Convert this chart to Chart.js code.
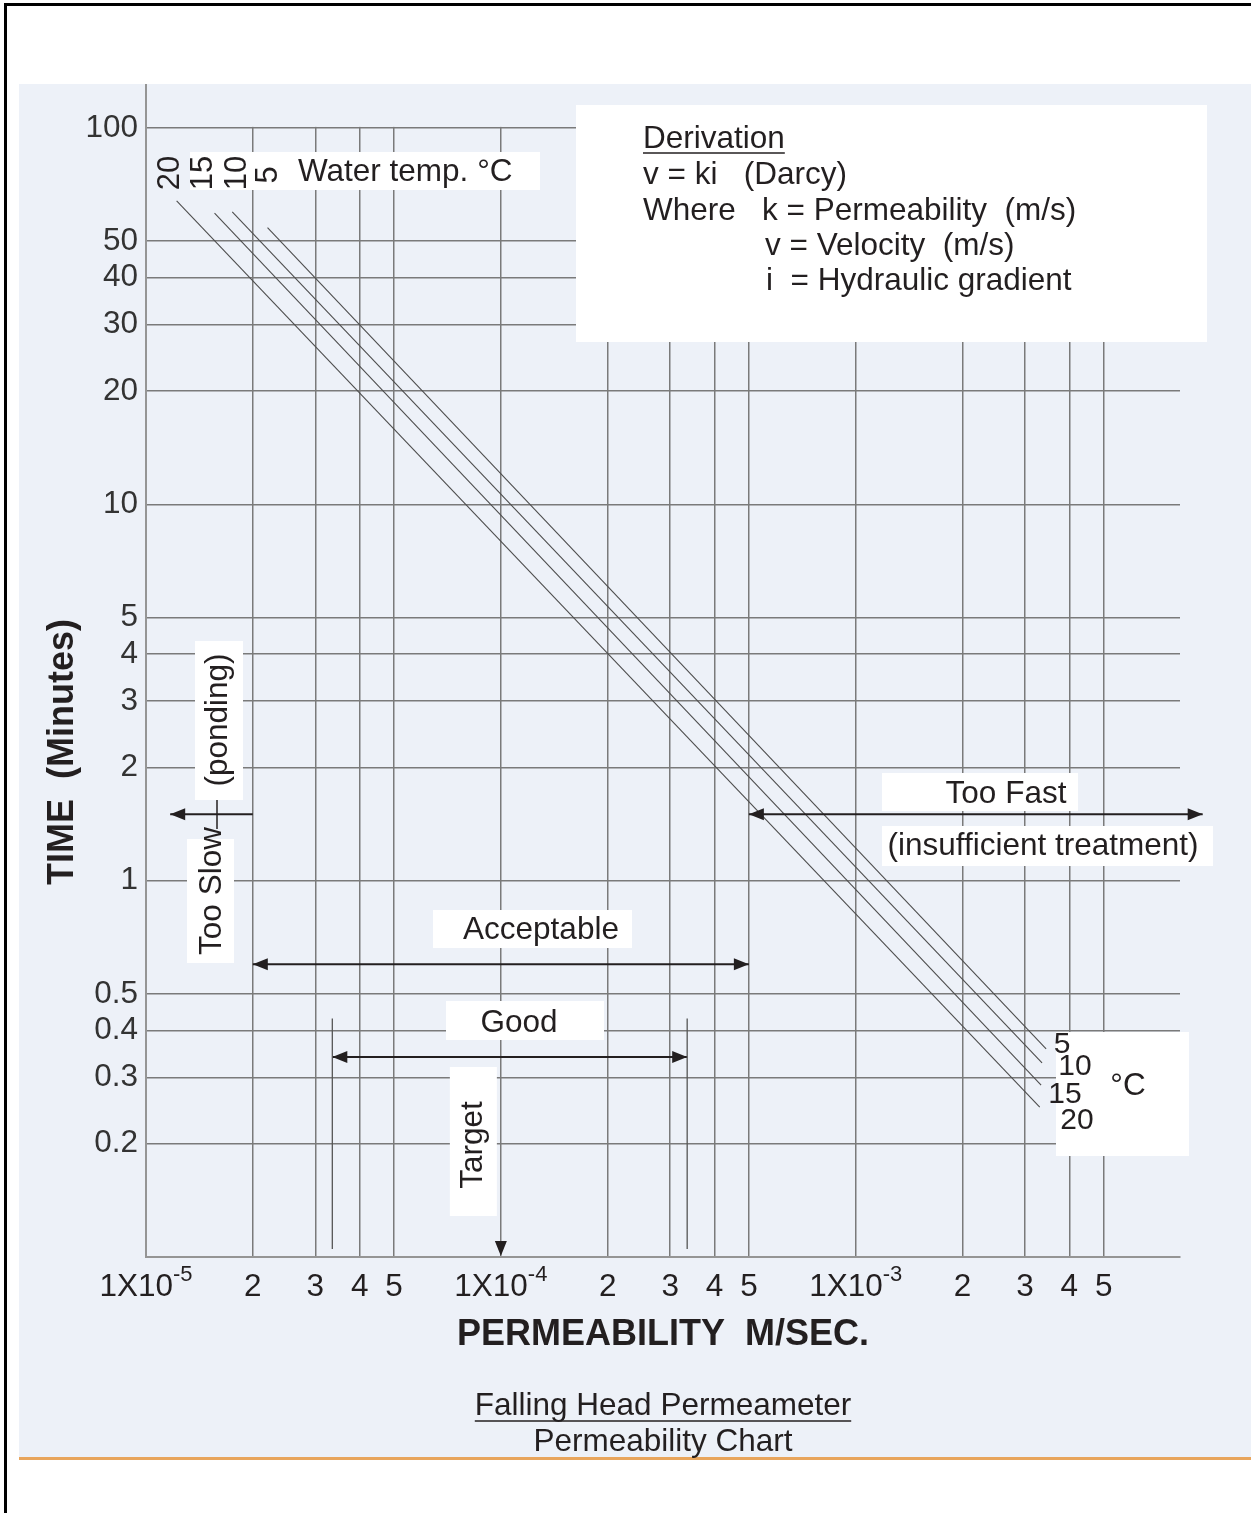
<!DOCTYPE html>
<html>
<head>
<meta charset="utf-8">
<title>Falling Head Permeameter - Permeability Chart</title>
<script src="https://cdn.jsdelivr.net/npm/chart.js@4.4.1/dist/chart.umd.min.js"></script>
<style>
    html, body { margin: 0; padding: 0; background: #fff; }
    #page { position: relative; width: 1251px; height: 1513px; overflow: hidden; }
    #frame { position: absolute; left: 4px; top: 3px; width: 1400px; height: 1600px;
             border-top: 3px solid #000; border-left: 3px solid #000; }
    #panel { position: absolute; left: 19px; top: 84px; width: 1260px; height: 1373px;
             background: #edf1f8; border-bottom: 3px solid #e8a55c; }
    #chartPermeabilidad { position: absolute; left: 0; top: 0; }
</style>
</head>
<body>
<div id="page">
    <div id="frame"></div>
    <div id="panel"></div>
    <canvas id="chartPermeabilidad" width="1251" height="1513"></canvas>
</div>
<script>
// temperature lines (water temp °C): start and end of each line, k in m/s, time in minutes
const tempLabels = ["20", "15", "10", "5"];
const startK = [1.22e-5, 1.56e-5, 1.75e-5, 2.2e-5];
const startT = [64, 59.4, 59.8, 54.3];
const endK = [3.30e-3, 3.33e-3, 3.35e-3, 3.44e-3];
const endT = [0.25, 0.286, 0.328, 0.357];

// axis ticks
const xTickValues = [1e-5, 2e-5, 3e-5, 4e-5, 5e-5, 1e-4, 2e-4, 3e-4, 4e-4, 5e-4, 1e-3, 2e-3, 3e-3, 4e-3, 5e-3];
const xTickBases = ["1X10", "2", "3", "4", "5", "1X10", "2", "3", "4", "5", "1X10", "2", "3", "4", "5"];
const xTickExps = ["-5", "", "", "", "", "-4", "", "", "", "", "-3", "", "", "", ""];
const yTickValues = [100, 50, 40, 30, 20, 10, 5, 4, 3, 2, 1, 0.5, 0.4, 0.3, 0.2];
const yTickLabels = ["100", "50", "40", "30", "20", "10", "5", "4", "3", "2", "1", "0.5", "0.4", "0.3", "0.2"];

// ranges (k from / to, at time)
const rangeNames = ["Too Slow", "Acceptable", "Good", "Too Fast"];
const rangeFrom = [2e-5, 2e-5, 3.35e-5, 5e-4];
const rangeTo = [1.17e-5, 5e-4, 3.35e-4, 9.5e-3];
const rangeTime = [1.5, 0.6, 0.34, 1.5];
const targetK = 1e-4;

const fam = '"Liberation Sans", Arial, Helvetica, sans-serif';
const ink = "#231f20";
const panelColor = "#edf1f8";
const fs = 31.5;

function caja(ctx, x, y, w, h) {
    ctx.fillStyle = "#fff";
    ctx.fillRect(x, y, w, h);
}

function texto(ctx, s, x, y, size, align, rot, weight) {
    ctx.save();
    ctx.translate(x, y);
    if (rot) ctx.rotate(-Math.PI / 2);
    ctx.font = `${weight || ""} ${size}px ${fam}`;
    ctx.fillStyle = ink;
    ctx.textAlign = align || "center";
    ctx.textBaseline = "middle";
    ctx.fillText(s, 0, 0);
    ctx.restore();
}

function subrayar(ctx, s, x, y, size, align) {
    ctx.font = `${size}px ${fam}`;
    const w = ctx.measureText(s).width;
    const x0 = align === "center" ? x - w / 2 : x;
    ctx.strokeStyle = ink;
    ctx.lineWidth = 1.5;
    ctx.beginPath();
    ctx.moveTo(x0, y);
    ctx.lineTo(x0 + w, y);
    ctx.stroke();
}

function punta(ctx, x, y, dir) {
    ctx.beginPath();
    ctx.moveTo(x, y);
    ctx.lineTo(x - dir * 15, y - 6);
    ctx.lineTo(x - dir * 15, y + 6);
    ctx.closePath();
    ctx.fill();
}

function flecha(ctx, x1, x2, y, ambas) {
    ctx.strokeStyle = ink;
    ctx.fillStyle = ink;
    ctx.lineWidth = 2;
    ctx.beginPath();
    ctx.moveTo(x1, y);
    ctx.lineTo(x2, y);
    ctx.stroke();
    const dir = x2 > x1 ? 1 : -1;
    punta(ctx, x2, y, dir);
    if (ambas) punta(ctx, x1, y, -dir);
}

const anotaciones = {
    id: "anotaciones",
    beforeDatasetsDraw(chart) {
        // vertical grid only starts at the 100 min line
        const { ctx, chartArea: a, scales: { y } } = chart;
        ctx.save();
        ctx.fillStyle = panelColor;
        ctx.fillRect(a.left + 1.5, a.top, a.right - a.left + 2, y.getPixelForValue(100) - a.top - 1);
        ctx.restore();
    },
    afterDraw(chart) {
        const { ctx, scales: { x, y } } = chart;
        const X = v => x.getPixelForValue(v);
        const Y = v => y.getPixelForValue(v);
        ctx.save();

        // x tick labels with exponents
        xTickValues.forEach((v, i) => {
            const px = X(v);
            ctx.font = `${fs}px ${fam}`;
            const bw = ctx.measureText(xTickBases[i]).width;
            ctx.font = `22px ${fam}`;
            const ew = xTickExps[i] ? ctx.measureText(xTickExps[i]).width : 0;
            const x0 = px - (bw + ew) / 2;
            ctx.fillStyle = ink;
            ctx.textAlign = "left";
            ctx.textBaseline = "alphabetic";
            ctx.font = `${fs}px ${fam}`;
            ctx.fillText(xTickBases[i], x0, x.top + 39);
            if (ew) {
                ctx.font = `22px ${fam}`;
                ctx.fillText(xTickExps[i], x0 + bw, x.top + 24);
            }
        });

        // y axis title
        texto(ctx, "TIME  (Minutes)", 63, 752, 36, "center", true, "bold");

        // water temp labels
        caja(ctx, 190, 152, 350, 38);
        texto(ctx, tempLabels[0], 170, 173, 31, "center", true);
        texto(ctx, tempLabels[1], 203, 173, 31, "center", true);
        texto(ctx, tempLabels[2], 237, 173, 31, "center", true);
        texto(ctx, tempLabels[3], 268, 175, 31, "center", true);
        texto(ctx, "Water temp. °C", 298, 172, fs, "left");

        // derivation box
        caja(ctx, 576, 105, 631, 237);
        texto(ctx, "Derivation", 643, 139, fs, "left");
        subrayar(ctx, "Derivation", 643, 153, fs, "left");
        texto(ctx, "v = ki   (Darcy)", 643, 175, fs, "left");
        texto(ctx, "Where", 643, 211, fs, "left");
        texto(ctx, "k = Permeability  (m/s)", 762, 211, fs, "left");
        texto(ctx, "v = Velocity  (m/s)", 765, 246, fs, "left");
        texto(ctx, "i  = Hydraulic gradient", 766, 281, fs, "left");

        // too slow
        caja(ctx, 195, 641, 48, 159);
        texto(ctx, "(ponding)", 218, 720, fs, "center", true);
        caja(ctx, 187, 839, 47, 124);
        texto(ctx, rangeNames[0], 212, 891, fs, "center", true);
        flecha(ctx, X(rangeFrom[0]), X(rangeTo[0]), Y(rangeTime[0]), false);
        ctx.lineWidth = 1.5;
        ctx.beginPath();
        ctx.moveTo(217, 800);
        ctx.lineTo(217, 829);
        ctx.stroke();

        // too fast
        caja(ctx, 882, 773, 196, 38);
        texto(ctx, rangeNames[3], 1006, 794, fs, "center");
        caja(ctx, 882, 826, 331, 40);
        texto(ctx, "(insufficient treatment)", 1043, 846, fs, "center");
        flecha(ctx, X(rangeFrom[3]), X(rangeTo[3]), Y(rangeTime[3]), true);

        // acceptable
        caja(ctx, 433, 910, 199, 38);
        texto(ctx, rangeNames[1], 541, 930, fs, "center");
        flecha(ctx, X(rangeFrom[1]), X(rangeTo[1]), Y(rangeTime[1]), true);

        // good
        caja(ctx, 446, 1001, 158, 39);
        texto(ctx, rangeNames[2], 519, 1023, fs, "center");
        flecha(ctx, X(rangeFrom[2]), X(rangeTo[2]), Y(rangeTime[2]), true);
        ctx.strokeStyle = "#555";
        ctx.lineWidth = 1.3;
        [rangeFrom[2], rangeTo[2]].forEach(k => {
            ctx.beginPath();
            ctx.moveTo(X(k), Y(0.43));
            ctx.lineTo(X(k), Y(0.105));
            ctx.stroke();
        });

        // target
        const tx = X(targetK);
        caja(ctx, tx - 51, 1067, 47, 149);
        texto(ctx, "Target", tx - 28, 1145, fs, "center", true);
        ctx.fillStyle = ink;
        ctx.beginPath();
        ctx.moveTo(tx, y.bottom - 1);
        ctx.lineTo(tx - 6, y.bottom - 16);
        ctx.lineTo(tx + 6, y.bottom - 16);
        ctx.closePath();
        ctx.fill();

        // end labels
        caja(ctx, 1056, 1032, 133, 124);
        texto(ctx, tempLabels[3], 1062, 1045, 30, "center");
        texto(ctx, tempLabels[2], 1075, 1067, 30, "center");
        texto(ctx, tempLabels[1], 1065, 1095, 30, "center");
        texto(ctx, tempLabels[0], 1077, 1121, 30, "center");
        texto(ctx, "°C", 1128, 1086, fs, "center");

        // caption
        texto(ctx, "Falling Head Permeameter", 663, 1406, fs, "center");
        subrayar(ctx, "Falling Head Permeameter", 663, 1421, fs, "center");
        texto(ctx, "Permeability Chart", 663, 1442, fs, "center");

        ctx.restore();
    }
};

const ctx = document.getElementById("chartPermeabilidad").getContext("2d");

new Chart(ctx, {
    type: "scatter",
    data: {
        datasets: tempLabels.map((t, i) => ({
            label: t + " °C",
            data: [{ x: startK[i], y: startT[i] }, { x: endK[i], y: endT[i] }],
            showLine: true,
            borderColor: "#4d4d4d",
            borderWidth: 1.1,
            pointRadius: 0
        }))
    },
    options: {
        responsive: false,
        animation: false,
        layout: { padding: { left: 0, top: 85, right: 71, bottom: 0 } },
        plugins: { legend: { display: false }, tooltip: { enabled: false } },
        scales: {
            x: {
                type: "logarithmic",
                bounds: "data",
                min: 1e-5,
                max: 8.2e-3,
                afterBuildTicks: s => { s.ticks = xTickValues.map(v => ({ value: v })); },
                afterFit: s => { s.height = 256; },
                ticks: { display: false },
                grid: { color: "#7a7a7a", lineWidth: 1.5, drawTicks: false },
                border: { color: "#959595", width: 2 },
                title: {
                    display: true,
                    text: "PERMEABILITY  M/SEC.",
                    color: ink,
                    font: { family: fam, size: 36, weight: "bold" },
                    padding: { top: 0, bottom: 156 }
                }
            },
            y: {
                type: "logarithmic",
                bounds: "data",
                min: 0.1,
                max: 130,
                afterBuildTicks: s => { s.ticks = yTickValues.map(v => ({ value: v })); },
                afterFit: s => { s.width = 146; },
                ticks: {
                    autoSkip: false,
                    padding: 8,
                    color: "#333",
                    font: { family: fam, size: fs },
                    callback: (v, i) => yTickLabels[i]
                },
                grid: { color: "#7a7a7a", lineWidth: 1.5, drawTicks: false },
                border: { color: "#959595", width: 2 },
                title: { display: false }
            }
        }
    },
    plugins: [anotaciones]
});
</script>
</body>
</html>
